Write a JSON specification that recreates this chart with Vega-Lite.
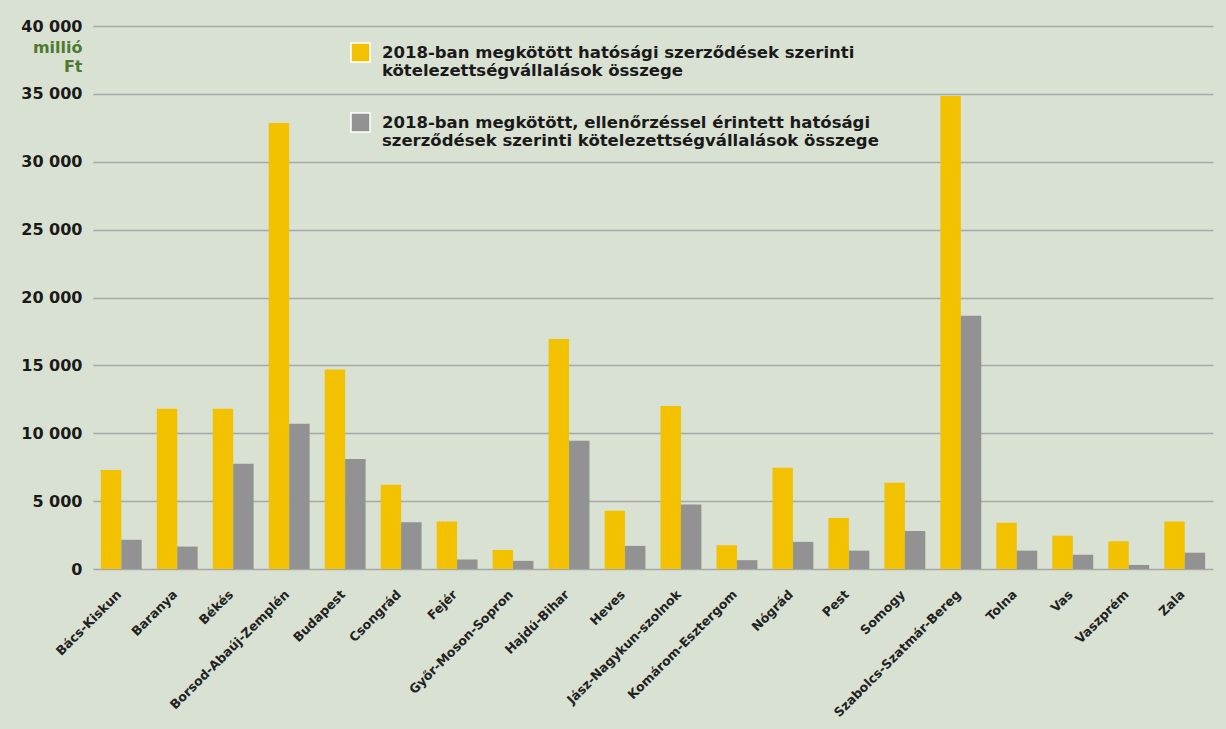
{
  "$schema": "https://vega.github.io/schema/vega-lite/v6.json",
  "width": 1120,
  "height": 543,
  "autosize": "none",
  "padding": {"left": 93, "top": 26, "right": 13, "bottom": 160},
  "background": "#d9e1d2",
  "config": {
    "locale": {"number": {"decimal": ",", "thousands": " ", "grouping": [3], "currency": ["", ""]}},
    "view": {"stroke": null},
    "font": "DejaVu Sans"
  },
  "data": {
    "values": [
      {"megye": "Bács-Kiskun", "s": "a", "v": 7300},
      {"megye": "Bács-Kiskun", "s": "b", "v": 2150},
      {"megye": "Baranya", "s": "a", "v": 11800},
      {"megye": "Baranya", "s": "b", "v": 1650},
      {"megye": "Békés", "s": "a", "v": 11800},
      {"megye": "Békés", "s": "b", "v": 7750},
      {"megye": "Borsod-Abaúj-Zemplén", "s": "a", "v": 32850},
      {"megye": "Borsod-Abaúj-Zemplén", "s": "b", "v": 10700},
      {"megye": "Budapest", "s": "a", "v": 14700},
      {"megye": "Budapest", "s": "b", "v": 8100},
      {"megye": "Csongrád", "s": "a", "v": 6200},
      {"megye": "Csongrád", "s": "b", "v": 3450},
      {"megye": "Fejér", "s": "a", "v": 3500},
      {"megye": "Fejér", "s": "b", "v": 700},
      {"megye": "Győr-Moson-Sopron", "s": "a", "v": 1400},
      {"megye": "Győr-Moson-Sopron", "s": "b", "v": 600},
      {"megye": "Hajdú-Bihar", "s": "a", "v": 16950},
      {"megye": "Hajdú-Bihar", "s": "b", "v": 9450},
      {"megye": "Heves", "s": "a", "v": 4300},
      {"megye": "Heves", "s": "b", "v": 1700},
      {"megye": "Jász-Nagykun-szolnok", "s": "a", "v": 12000},
      {"megye": "Jász-Nagykun-szolnok", "s": "b", "v": 4750},
      {"megye": "Komárom-Esztergom", "s": "a", "v": 1750},
      {"megye": "Komárom-Esztergom", "s": "b", "v": 650},
      {"megye": "Nógrád", "s": "a", "v": 7450},
      {"megye": "Nógrád", "s": "b", "v": 2000},
      {"megye": "Pest", "s": "a", "v": 3750},
      {"megye": "Pest", "s": "b", "v": 1350},
      {"megye": "Somogy", "s": "a", "v": 6350},
      {"megye": "Somogy", "s": "b", "v": 2800},
      {"megye": "Szabolcs-Szatmár-Bereg", "s": "a", "v": 34850},
      {"megye": "Szabolcs-Szatmár-Bereg", "s": "b", "v": 18650},
      {"megye": "Tolna", "s": "a", "v": 3400},
      {"megye": "Tolna", "s": "b", "v": 1350},
      {"megye": "Vas", "s": "a", "v": 2450},
      {"megye": "Vas", "s": "b", "v": 1050},
      {"megye": "Vaszprém", "s": "a", "v": 2050},
      {"megye": "Vaszprém", "s": "b", "v": 300},
      {"megye": "Zala", "s": "a", "v": 3500},
      {"megye": "Zala", "s": "b", "v": 1200}
    ]
  },
  "mark": {"type": "bar"},
  "encoding": {
    "x": {
      "field": "megye",
      "type": "nominal",
      "sort": null,
      "scale": {"paddingInner": 0.27, "paddingOuter": 0.14},
      "axis": {
        "title": null,
        "labelAngle": -45,
        "labelAlign": "right",
        "labelBaseline": "middle",
        "labelOffset": -2,
        "labelPadding": 23,
        "labelFont": "DejaVu Sans",
        "labelFontWeight": "bold",
        "labelFontSize": 12.6,
        "labelColor": "#222222",
        "labelLimit": 300,
        "ticks": false,
        "domain": false
      }
    },
    "xOffset": {"field": "s", "type": "nominal"},
    "y": {
      "field": "v",
      "type": "quantitative",
      "scale": {"domain": [0, 40000]},
      "axis": {
        "values": [0, 5000, 10000, 15000, 20000, 25000, 30000, 35000, 40000],
        "format": ",d",
        "domain": false,
        "ticks": false,
        "gridColor": "#a8a8a8",
        "gridWidth": 1.5,
        "labelPadding": 11,
        "labelFont": "DejaVu Sans",
        "labelFontWeight": "bold",
        "labelFontSize": 16,
        "labelColor": "#1a1a1a",
        "title": ["millió", "Ft"],
        "titleColor": "#4e7a2f",
        "titleFont": "DejaVu Sans",
        "titleFontWeight": "bold",
        "titleFontSize": 16,
        "titleAngle": 0,
        "titleAlign": "right",
        "titleBaseline": "top",
        "titleX": -11,
        "titleY": 13,
        "titleLineHeight": 19
      }
    },
    "color": {
      "field": "s",
      "type": "nominal",
      "scale": {"domain": ["a", "b"], "range": ["#f2c100", "#929292"]},
      "legend": {
        "title": null,
        "orient": "none",
        "legendX": 257,
        "legendY": 16,
        "symbolType": "square",
        "symbolSize": 361,
        "symbolStrokeColor": "#ffffff",
        "symbolStrokeWidth": 1.5,
        "symbolOpacity": 1,
        "labelOffset": 11,
        "labelFont": "DejaVu Sans",
        "labelFontWeight": "bold",
        "labelFontSize": 16.5,
        "labelColor": "#1a1a1a",
        "labelLimit": 700,
        "labelBaseline": "middle",
        "labelLineHeight": 19,
        "rowPadding": 30,
        "labelExpr": "datum.value == 'a' ? ['2018-ban megkötött hatósági szerződések szerinti', 'kötelezettségvállalások összege'] : ['2018-ban megkötött, ellenőrzéssel érintett hatósági', 'szerződések szerinti kötelezettségvállalások összege']"
      }
    }
  }
}
